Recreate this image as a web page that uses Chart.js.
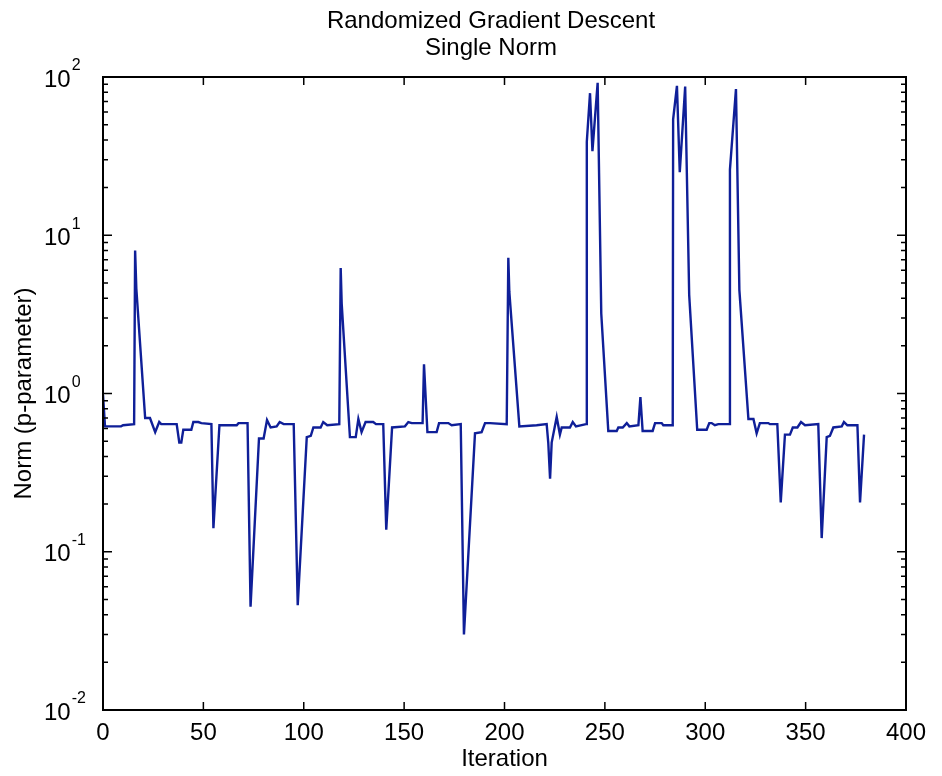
<!DOCTYPE html>
<html>
<head>
<meta charset="utf-8">
<script src="https://cdn.jsdelivr.net/npm/chart.js@4.4.1/dist/chart.umd.min.js"></script>
<style>
  html, body { margin: 0; padding: 0; background: #fff; }
</style>
</head>
<body>
<canvas id="normChart" width="942" height="776"></canvas>
<script>
// values (iteration, norm)
const iterations = [
  0, 1, 9, 10, 15.5, 16, 16.6, 21, 23.4, 26, 28, 29, 36.7, 38, 39, 40, 44, 45, 47.5, 49,
  54, 55, 58, 66.6, 67.5, 72, 73.5, 77.7, 80, 81.7, 83.5, 86.5, 88, 90, 95, 97,
  101.5, 103.5, 104.8, 108.4, 109.7, 111.7, 117.7, 118.4, 118.9, 123, 125.9, 127.2, 128.8, 130.8,
  134.6, 136, 139.6, 141.1, 144, 150.4, 152.1, 153.8, 159.2, 159.9, 161.6, 166.2, 167.4, 172,
  173.7, 178.2, 179.8, 185.3, 188.6, 190.3, 192.8, 201.1, 201.9, 202.4, 207.4, 216, 221, 221.8,
  222.7, 223.5, 226, 227.6, 228.5, 232.6, 234, 235.6, 240.6, 241, 242.6, 243.8, 246.4, 248.2,
  251.7, 255.9, 256.7, 258.9, 260.9, 262.2, 266.7, 267.7, 268.8, 273.8, 275, 278.3, 279.1, 283.8,
  284, 285.9, 287.3, 290, 292, 296, 300.7, 302, 303.2, 304.8, 306.5, 312, 312.3, 315.3, 317,
  321.5, 324, 325.6, 327.2, 331.4, 332.2, 335.9, 337.6, 339.7, 342.2, 343.6, 345.9, 347.7, 349.7,
  356.3, 358, 360.5, 362.1, 363.8, 368, 369.1, 370.8, 375.8, 377.1, 379.1
];
const norms = [
  0.98, 0.62, 0.62, 0.63, 0.64, 8.0, 4.6, 0.70, 0.70, 0.57, 0.66, 0.64, 0.64, 0.49, 0.49, 0.59, 0.59, 0.66, 0.66, 0.65,
  0.64, 0.141, 0.63, 0.63, 0.65, 0.65, 0.045, 0.52, 0.52, 0.68, 0.61, 0.62, 0.66, 0.64, 0.64, 0.046,
  0.53, 0.54, 0.61, 0.61, 0.66, 0.63, 0.64, 6.2, 3.7, 0.53, 0.53, 0.69, 0.57, 0.66,
  0.66, 0.64, 0.64, 0.138, 0.61, 0.62, 0.66, 0.65, 0.65, 1.53, 0.57, 0.57, 0.65, 0.65,
  0.63, 0.64, 0.030, 0.56, 0.57, 0.65, 0.65, 0.64, 7.2, 4.4, 0.62, 0.63, 0.64, 0.49,
  0.29, 0.49, 0.71, 0.55, 0.61, 0.61, 0.66, 0.62, 0.64, 39, 79, 34, 92, 3.2,
  0.58, 0.58, 0.61, 0.61, 0.65, 0.62, 0.63, 0.95, 0.58, 0.58, 0.65, 0.65, 0.63, 0.63,
  54, 88, 25, 87, 4.2, 0.59, 0.59, 0.65, 0.65, 0.63, 0.64, 0.64, 26, 84, 4.5,
  0.69, 0.69, 0.56, 0.65, 0.65, 0.64, 0.64, 0.205, 0.55, 0.55, 0.61, 0.61, 0.66, 0.63,
  0.64, 0.122, 0.53, 0.54, 0.61, 0.62, 0.66, 0.63, 0.63, 0.205, 0.55
];
const xTicks = [0, 50, 100, 150, 200, 250, 300, 350, 400];
const yDecades = [-2, -1, 0, 1, 2];
const titleLines = ['Randomized Gradient Descent', 'Single Norm'];

const FONT = "'Liberation Sans', Arial, Helvetica, sans-serif";

const points = iterations.map((it, i) => ({ x: it, y: norms[i] }));

// matlab style frame: box, inward ticks, 10^k labels and the two line title
const matlabFrame = {
    id: 'matlabFrame',
    afterDraw(chart) {
        const ctx = chart.ctx;
        const area = chart.chartArea;
        const xs = chart.scales.x;
        const ys = chart.scales.y;

        ctx.save();
        ctx.strokeStyle = '#000';
        ctx.lineWidth = 2;
        ctx.strokeRect(area.left, area.top, area.right - area.left, area.bottom - area.top);

        ctx.lineWidth = 1.5;
        ctx.beginPath();
        xTicks.forEach(v => {
            const px = xs.getPixelForValue(v);
            ctx.moveTo(px, area.bottom);
            ctx.lineTo(px, area.bottom - 8);
            ctx.moveTo(px, area.top);
            ctx.lineTo(px, area.top + 8);
        });
        yDecades.forEach(k => {
            const py = ys.getPixelForValue(Math.pow(10, k));
            ctx.moveTo(area.left, py);
            ctx.lineTo(area.left + 9, py);
            ctx.moveTo(area.right, py);
            ctx.lineTo(area.right - 9, py);
            if (k < 2) {
                for (let m = 2; m <= 9; m++) {
                    const pm = ys.getPixelForValue(m * Math.pow(10, k));
                    ctx.moveTo(area.left, pm);
                    ctx.lineTo(area.left + 5, pm);
                    ctx.moveTo(area.right, pm);
                    ctx.lineTo(area.right - 5, pm);
                }
            }
        });
        ctx.stroke();

        // y labels with superscript exponent
        ctx.fillStyle = '#000';
        ctx.textBaseline = 'middle';
        ctx.textAlign = 'left';
        yDecades.forEach(k => {
            const py = ys.getPixelForValue(Math.pow(10, k));
            ctx.font = '24px ' + FONT;
            ctx.fillText('10', 44, py + 3);
            const w = ctx.measureText('10').width;
            ctx.font = '16px ' + FONT;
            ctx.fillText(k < 0 ? '-' + (-k) : String(k), 44 + w + 1, py - 11);
        });

        // title
        ctx.font = '24px ' + FONT;
        ctx.textAlign = 'center';
        ctx.fillText(titleLines[0], 491, 21);
        ctx.fillText(titleLines[1], 491, 48);
        ctx.restore();
    }
};

new Chart(document.getElementById('normChart'), {
    type: 'line',
    data: {
        datasets: [{
            data: points,
            borderColor: '#0f1f98',
            borderWidth: 2.4,
            pointRadius: 0,
            tension: 0,
            fill: false
        }]
    },
    options: {
        responsive: false,
        animation: false,
        layout: { padding: { left: 0, right: 36, top: 77, bottom: 0 } },
        plugins: {
            legend: { display: false },
            tooltip: { enabled: false }
        },
        scales: {
            x: {
                type: 'linear',
                min: 0,
                max: 400,
                grid: { display: false, drawTicks: false },
                border: { display: false },
                ticks: {
                    stepSize: 50,
                    padding: 9,
                    color: '#000',
                    font: { family: FONT, size: 24 }
                },
                title: {
                    display: true,
                    text: 'Iteration',
                    color: '#000',
                    font: { family: FONT, size: 24 },
                    padding: { top: 0, bottom: 2 }
                },
                afterFit(scale) { scale.height = 66; }
            },
            y: {
                type: 'logarithmic',
                min: 0.01,
                max: 100,
                grid: { display: false, drawTicks: false },
                border: { display: false },
                ticks: { display: false },
                title: {
                    display: true,
                    text: 'Norm (p-parameter)',
                    color: '#000',
                    font: { family: FONT, size: 24 },
                    padding: { top: 10, bottom: 0 }
                },
                afterFit(scale) { scale.width = 103; }
            }
        }
    },
    plugins: [matlabFrame]
});
</script>
</body>
</html>
